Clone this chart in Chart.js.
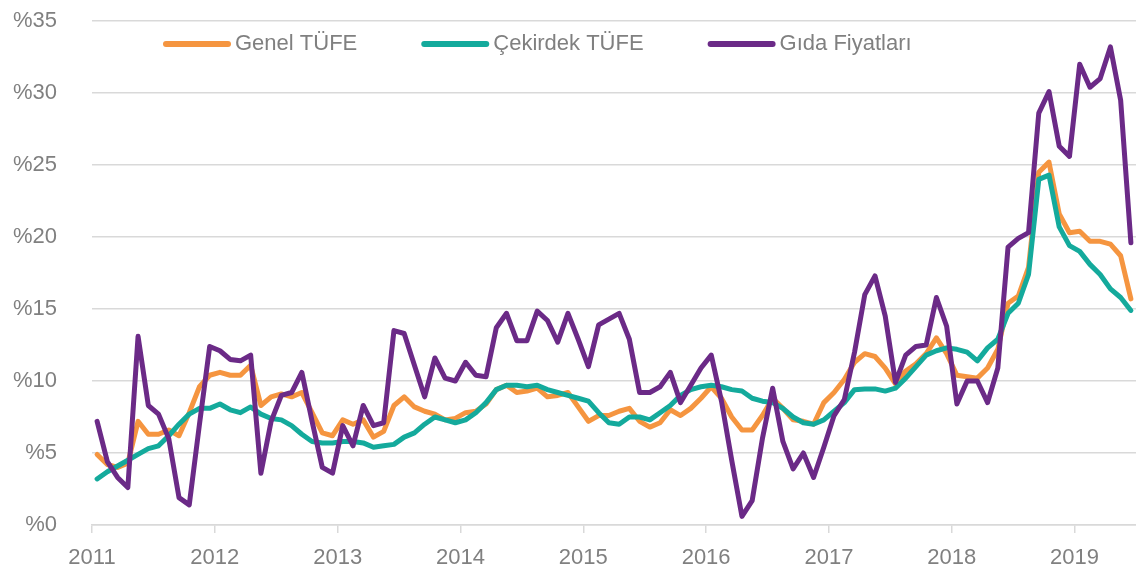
<!DOCTYPE html>
<html>
<head>
<meta charset="utf-8">
<script src="https://cdn.jsdelivr.net/npm/chart.js@4/dist/chart.umd.min.js"></script>
<style>
  html, body { margin: 0; padding: 0; background: #ffffff; }
  #wrap { width: 1136px; height: 573px; }
</style>
</head>
<body>
<div id="wrap"><canvas id="c" width="1136" height="573"></canvas></div>
<script>
// Year tick labels (one tick every 12 months, Jan 2011 .. Jan 2019)
const yearLabels = ['2011', '2012', '2013', '2014', '2015', '2016', '2017', '2018', '2019'];
const seriesNames = ['Genel TÜFE', 'Çekirdek TÜFE', 'Gıda Fiyatları'];

// Monthly annual inflation, Jan 2011 .. Jun 2019
const genelTufe = [
  4.9, 4.2, 4.0, 4.3, 7.2, 6.3, 6.3, 6.6, 6.2, 7.8, 9.6, 10.4,
  10.6, 10.4, 10.4, 11.1, 8.3, 8.9, 9.1, 8.9, 9.2, 7.8, 6.4, 6.2,
  7.3, 7.0, 7.3, 6.1, 6.5, 8.3, 8.9, 8.2, 7.9, 7.7, 7.3, 7.4,
  7.8, 7.9, 8.4, 9.4, 9.7, 9.2, 9.3, 9.5, 8.9, 9.0, 9.2, 8.2,
  7.2, 7.6, 7.6, 7.9, 8.1, 7.2, 6.8, 7.1, 8.0, 7.6, 8.1, 8.8,
  9.6, 8.8, 7.5, 6.6, 6.6, 7.6, 8.8, 8.1, 7.3, 7.2, 7.0, 8.5,
  9.2, 10.1, 11.3, 11.9, 11.7, 10.9, 9.8, 10.7, 11.2, 11.9, 13.0, 11.9,
  10.4, 10.3, 10.2, 10.9, 12.2, 15.4, 15.9, 17.9, 24.5, 25.2, 21.6, 20.3,
  20.4, 19.7, 19.7, 19.5, 18.7, 15.7
];
const cekirdekTufe = [
  3.2, 3.7, 4.1, 4.5, 4.9, 5.3, 5.5, 6.2, 7.0, 7.7, 8.1, 8.1,
  8.4, 8.0, 7.8, 8.2, 7.7, 7.4, 7.3, 6.9, 6.3, 5.8, 5.7, 5.7,
  5.8, 5.8, 5.7, 5.4, 5.5, 5.6, 6.1, 6.4, 7.0, 7.5, 7.3, 7.1,
  7.3, 7.8, 8.5, 9.4, 9.7, 9.7, 9.6, 9.7, 9.4, 9.2, 9.0, 8.8,
  8.6, 7.8, 7.1, 7.0, 7.5, 7.5, 7.3, 7.8, 8.3, 9.0, 9.4, 9.6,
  9.7, 9.6, 9.4, 9.3, 8.8, 8.6, 8.5, 8.1, 7.5, 7.1, 7.0, 7.3,
  7.9, 8.5, 9.4, 9.45, 9.45, 9.3, 9.5, 10.2, 11.0, 11.8, 12.1, 12.3,
  12.2, 12.0, 11.4, 12.3, 12.9, 14.7, 15.4, 17.4, 24.0, 24.3, 20.7, 19.4,
  19.0, 18.1, 17.4, 16.4, 15.8, 14.9
];
const gidaFiyatlari = [
  7.2, 4.4, 3.3, 2.6, 13.1, 8.3, 7.7, 6.0, 1.9, 1.4, 7.0, 12.4,
  12.1, 11.5, 11.4, 11.8, 3.6, 7.2, 9.0, 9.2, 10.6, 7.2, 4.0, 3.6,
  6.9, 5.5, 8.3, 6.9, 7.1, 13.5, 13.3, 11.1, 8.9, 11.6, 10.2, 10.0,
  11.3, 10.4, 10.3, 13.7, 14.7, 12.8, 12.8, 14.85, 14.2, 12.7, 14.7, 12.9,
  11.0, 13.9, 14.3, 14.7, 12.9, 9.2, 9.2, 9.6, 10.6, 8.5, 9.7, 10.9,
  11.8, 8.6, 4.5, 0.6, 1.7, 6.0, 9.5, 5.8, 3.9, 5.0, 3.3, 5.4,
  7.6, 8.7, 12.0, 16.0, 17.3, 14.5, 9.9, 11.8, 12.4, 12.5, 15.8, 13.8,
  8.4, 10.0, 10.0, 8.5, 10.9, 19.3, 19.9, 20.3, 28.6, 30.1, 26.3, 25.6,
  32.0, 30.4, 31.0, 33.2, 29.5, 19.6
];

const colors = ['#F59540', '#14AA9C', '#6B2A87'];
const FONT = '"Liberation Sans", Arial, sans-serif';
const TEXT_COLOR = '#808080';
const GRID_COLOR = '#d9d9d9';

// each monthly point sits in the middle of its month
const toPoints = arr => arr.map((v, i) => ({ x: i + 0.5, y: v }));

const inlineLegend = {
  id: 'inlineLegend',
  afterDatasetsDraw(chart) {
    const ctx = chart.ctx;
    ctx.save();
    ctx.font = '22px ' + FONT;
    ctx.textBaseline = 'middle';
    let x = 163;
    const y = 44;
    chart.data.datasets.forEach(ds => {
      ctx.strokeStyle = ds.borderColor;
      ctx.lineWidth = 6;
      ctx.lineCap = 'round';
      ctx.beginPath();
      ctx.moveTo(x + 3, y);
      ctx.lineTo(x + 65, y);
      ctx.stroke();
      ctx.fillStyle = TEXT_COLOR;
      ctx.fillText(ds.label, x + 72, y);
      x += 72 + ctx.measureText(ds.label).width + 64;
    });
    ctx.restore();
  }
};

const datasets = [genelTufe, cekirdekTufe, gidaFiyatlari].map((arr, k) => ({
  label: seriesNames[k],
  data: toPoints(arr),
  borderColor: colors[k],
  backgroundColor: colors[k],
  borderWidth: 5,
  pointRadius: 0,
  tension: 0,
  borderJoinStyle: 'round',
  borderCapStyle: 'round',
  order: 3 - k
}));

new Chart(document.getElementById('c'), {
  type: 'line',
  data: { datasets },
  plugins: [inlineLegend],
  options: {
    responsive: false,
    animation: false,
    layout: { padding: { top: 21, right: 0, bottom: 0, left: 0 } },
    plugins: {
      legend: { display: false },
      tooltip: { enabled: false }
    },
    scales: {
      x: {
        type: 'linear',
        min: 0,
        max: 102,
        afterBuildTicks: axis => {
          axis.ticks = yearLabels.map((_, i) => ({ value: i * 12 }));
        },
        afterFit: axis => { axis.height = 48; },
        ticks: {
          stepSize: 12,
          autoSkip: false,
          maxRotation: 0,
          padding: 12,
          color: TEXT_COLOR,
          font: { family: FONT, size: 22 },
          callback: v => yearLabels[Math.round(v / 12)]
        },
        grid: {
          drawOnChartArea: false,
          drawTicks: true,
          tickLength: 8,
          color: GRID_COLOR,
          lineWidth: 1.5
        },
        border: { display: true, color: GRID_COLOR, width: 1.5 }
      },
      y: {
        min: 0,
        max: 35,
        afterFit: axis => { axis.width = 92; },
        ticks: {
          stepSize: 5,
          padding: 3,
          color: TEXT_COLOR,
          font: { family: FONT, size: 22 },
          callback: v => '%' + v
        },
        grid: {
          drawTicks: true,
          tickLength: 32,
          tickColor: 'rgba(0,0,0,0)',
          color: GRID_COLOR,
          lineWidth: 1.5
        },
        border: { display: false }
      }
    }
  }
});
</script>
</body>
</html>
